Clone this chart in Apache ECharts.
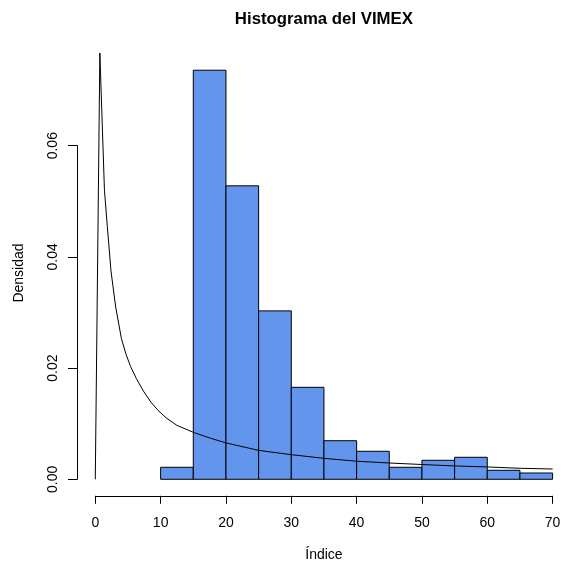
<!DOCTYPE html>
<html>
<head>
<meta charset="utf-8">
<script src="https://cdn.jsdelivr.net/npm/echarts@6/dist/echarts.min.js"></script>
<style>
html,body{margin:0;padding:0;background:#fff;}
#chart{width:562px;height:565px;}
</style>
</head>
<body>
<div id="chart"></div>
<script>
// ---- data ----
const binLo = [10, 15, 20, 25, 30, 35, 40, 45, 50, 55, 60, 65];
const binHi = [15, 20, 25, 30, 35, 40, 45, 50, 55, 60, 65, 70];
const density = [0.00216, 0.0736, 0.0528, 0.0303, 0.01655, 0.00694, 0.00504, 0.00216, 0.00342, 0.00396, 0.00162, 0.00113];
const curveX = [0, 0.7, 1.4, 1.84, 2.4, 3.12, 4.0, 4.7, 5.4, 6.3, 7.35, 8.5, 9.6, 10.9, 12.5, 15, 17.6, 20, 25, 30, 35, 40, 45, 50, 55, 60, 65, 70];
const curveY = [0, 0.0767, 0.052, 0.0455, 0.0375, 0.031, 0.0253, 0.0225, 0.0203, 0.0181, 0.0159, 0.0139, 0.0124, 0.0110, 0.0097, 0.00845, 0.0074, 0.00655, 0.0052, 0.00443, 0.00377, 0.00325, 0.00293, 0.00266, 0.0024, 0.00222, 0.00198, 0.00185];
const xTicks = [0, 70, 10];      // min, max, step
const yTicks = [0, 0.06, 0.02];  // min, max, step
const titleText = 'Histograma del VIMEX';
const xName = 'Índice';
const yName = 'Densidad';

const FONT = '"Liberation Sans", Arial, Helvetica, sans-serif';
const chart = echarts.init(document.getElementById('chart'), null, {renderer: 'canvas'});

const bars = binLo.map((lo, i) => [lo, binHi[i], density[i]]);
const curve = curveX.map((x, i) => [x, curveY[i]]);

const hidden = {show: false};

chart.setOption({
  animation: false,
  backgroundColor: '#fff',
  title: {
    text: titleText,
    left: 323.9, top: 11, padding: 0, textAlign: 'center',
    textStyle: {fontFamily: FONT, fontSize: 16.8, fontWeight: 'bold', color: '#000'}
  },
  grid: [
    // plot region (data), extends past the right edge like the reference
    {left: 77, width: 493.9, top: 50.2, height: 445.6, containLabel: false, outerBoundsMode: 'none'},
    // x axis drawn from 0 to 70 only
    {left: 95.3, width: 457.3, top: 494.8, height: 1, containLabel: false, outerBoundsMode: 'none'},
    // y axis drawn from 0 to 0.06 only
    {left: 77, width: 1, top: 145.7, height: 333.6, containLabel: false, outerBoundsMode: 'none'}
  ],
  xAxis: [
    {gridIndex: 0, type: 'value', min: -2.8, max: 72.8,
     axisLine: hidden, axisTick: hidden, axisLabel: hidden, splitLine: hidden,
     name: xName, nameLocation: 'middle', nameGap: 52,
     nameTextStyle: {fontFamily: FONT, fontSize: 14, color: '#000'}},
    {gridIndex: 1, type: 'value', min: xTicks[0], max: xTicks[1], interval: xTicks[2],
     axisLine: {show: true, onZero: false, lineStyle: {color: '#000', width: 1}},
     axisTick: {show: true, inside: false, length: 8, lineStyle: {color: '#000', width: 1}},
     axisLabel: {show: true, margin: 20, color: '#000', fontFamily: FONT, fontSize: 14, showMinLabel: true, showMaxLabel: true},
     splitLine: hidden},
    {gridIndex: 2, type: 'value', show: false}
  ],
  yAxis: [
    {gridIndex: 0, type: 'value', min: -0.00297, max: 0.0772,
     axisLine: hidden, axisTick: hidden, axisLabel: hidden, splitLine: hidden,
     name: yName, nameLocation: 'middle', nameGap: 51, nameRotate: 90,
     nameTextStyle: {fontFamily: FONT, fontSize: 14, color: '#000'}},
    {gridIndex: 1, type: 'value', show: false},
    {gridIndex: 2, type: 'value', min: yTicks[0], max: yTicks[1], interval: yTicks[2],
     axisLine: {show: true, onZero: false, lineStyle: {color: '#000', width: 1}},
     axisTick: {show: true, inside: false, length: 9, lineStyle: {color: '#000', width: 1}},
     axisLabel: {show: true, rotate: 90, margin: 17, color: '#000', fontFamily: FONT, fontSize: 14,
                 formatter: v => v.toFixed(2), showMinLabel: true, showMaxLabel: true},
     splitLine: hidden}
  ],
  series: [
    {
      type: 'custom', xAxisIndex: 0, yAxisIndex: 0,
      data: bars,
      encode: {x: [0, 1], y: 2},
      renderItem: function (params, api) {
        const p0 = api.coord([api.value(0), 0]);
        const p1 = api.coord([api.value(1), api.value(2)]);
        return {
          type: 'rect',
          shape: {x: p0[0], y: p1[1], width: p1[0] - p0[0], height: p0[1] - p1[1]},
          style: {fill: '#6495ED', stroke: '#000', lineWidth: 1}
        };
      },
      clip: true
    },
    {
      type: 'line', xAxisIndex: 0, yAxisIndex: 0,
      data: curve, showSymbol: false, symbol: 'none', smooth: false, clip: true,
      lineStyle: {color: '#000', width: 1}
    }
  ]
});
</script>
</body>
</html>
